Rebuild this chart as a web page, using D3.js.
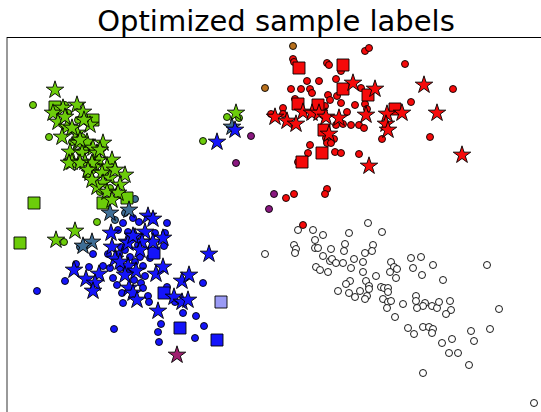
<!DOCTYPE html>
<html>
<head>
<meta charset="utf-8">
<script src="https://d3js.org/d3.v7.min.js"></script>
<style>
  body { margin: 0; background: #fff; }
  svg { display: block; }
</style>
</head>
<body>
<svg id="vis-svg" width="541" height="412"></svg>
<script>
// embedding coordinates (arbitrary units)
const greenStars = [[55,90],[77,105],[63,108],[53,113],[83,112],[58,122],[67,127],[90,125],[62,137],[77,133],[78,143],[87,142],[103,143],[93,148],[70,152],[82,153],[97,153],[72,162],[85,162],[99,160],[112,160],[95,167],[107,167],[69,163],[80,163],[92,163],[125,175],[90,173],[102,173],[110,178],[103,183],[97,187],[120,185],[107,192],[118,193],[112,200],[75,231],[56,240],[236,113],[65,117],[72,128],[84,120],[100,150],[88,170],[115,170],[92,180],[80,140]];
const greenCircles = [[33,105],[65,105],[78,120],[49,137],[72,142],[82,137],[80,152],[87,175],[97,222],[64,242],[227,117],[239,118],[203,141],[68,113],[75,130],[85,150],[95,158],[105,175],[110,188],[100,192],[90,145],[120,195]];
const greenSquares = [[55,107],[93,120],[103,203],[127,198],[34,203],[20,243]];

const steelStars = [[110,213],[129,210],[92,242],[83,246],[232,127]];
const steelCircles = [[135,199],[115,220],[80,247],[125,213]];

const blueStars = [[217,142],[235,130],[148,216],[153,219],[111,233],[127,242],[145,232],[135,237],[153,242],[163,238],[112,247],[128,243],[142,242],[133,236],[115,259],[209,254],[74,270],[99,274],[86,279],[95,283],[128,266],[136,271],[156,274],[163,267],[182,281],[189,275],[93,291],[129,288],[133,293],[137,300],[174,297],[182,302],[188,300],[158,311],[120,262],[140,250],[125,275]];
const blueCircles = [[123,223],[133,218],[139,222],[167,223],[118,230],[128,232],[155,233],[165,233],[164,246],[93,254],[108,254],[121,247],[119,254],[130,257],[140,257],[76,264],[89,267],[65,281],[103,266],[110,268],[113,278],[143,266],[128,272],[134,280],[203,283],[37,291],[117,285],[122,293],[141,283],[143,288],[148,296],[123,303],[149,302],[167,287],[175,302],[183,313],[196,316],[161,324],[204,326],[114,329],[158,332],[195,338],[159,342],[125,250],[135,262],[120,268],[145,276],[150,258],[138,245]];
const blueSquares = [[154,253],[164,293],[180,328],[217,340]];
const paleSquares = [[221,302]];
const plumStars = [[177,355]];
const purpleCircles = [[251,136],[236,163],[274,194],[269,209]];
const brownCircles = [[293,46],[265,88]];

const redCircles = [[365,51],[369,48],[293,59],[294,62],[327,63],[329,65],[341,71],[405,64],[307,81],[319,81],[336,79],[361,88],[453,89],[291,89],[301,89],[310,89],[312,93],[328,95],[337,96],[330,100],[411,102],[295,99],[341,103],[355,105],[365,104],[283,108],[325,106],[367,109],[347,112],[271,114],[283,114],[336,125],[343,124],[351,125],[359,125],[364,128],[326,138],[334,139],[327,143],[331,143],[382,139],[430,137],[310,145],[308,153],[335,152],[341,153],[359,154],[298,162],[286,198],[294,194],[327,189],[325,194],[303,225]];
const redStars = [[353,83],[375,89],[424,85],[402,113],[387,114],[437,113],[303,112],[312,113],[319,113],[326,117],[339,118],[366,115],[275,117],[287,121],[296,124],[386,124],[388,130],[329,134],[462,155],[369,166]];
const redSquares = [[299,68],[343,65],[343,89],[368,95],[298,104],[318,105],[395,109],[324,130],[322,153],[302,162]];

const whiteCircles = [[298,230],[313,230],[323,235],[368,223],[382,232],[349,233],[294,245],[296,249],[295,253],[265,254],[315,240],[315,248],[318,248],[331,249],[345,244],[344,251],[373,245],[372,251],[365,253],[323,256],[330,261],[332,259],[336,263],[343,263],[354,259],[363,262],[316,267],[320,270],[328,272],[351,268],[363,272],[376,276],[391,262],[394,267],[397,269],[390,272],[396,278],[411,258],[421,257],[413,268],[433,265],[422,275],[443,280],[487,265],[499,309],[350,281],[346,284],[338,291],[349,293],[355,297],[360,291],[366,281],[369,286],[369,289],[367,296],[365,299],[381,287],[384,288],[388,288],[388,292],[383,299],[388,302],[391,301],[387,308],[403,304],[416,296],[416,301],[425,303],[423,306],[417,308],[432,306],[437,308],[439,302],[450,301],[451,310],[446,314],[395,317],[408,328],[414,334],[423,327],[429,327],[433,329],[432,333],[442,343],[452,339],[449,353],[458,353],[471,331],[474,341],[490,329],[469,365],[423,373],[534,403]];

const width = 541, height = 412;
const svg = d3.select('#vis-svg');

const x = d3.scaleLinear().domain([0, 541]).range([0, width]);
const y = d3.scaleLinear().domain([0, 412]).range([0, height]);

// title
svg.append('text')
  .attr('x', 276)
  .attr('y', 31)
  .attr('text-anchor', 'middle')
  .style('font-family', 'DejaVu Sans, sans-serif')
  .style('font-size', '29px')
  .text('Optimized sample labels');

// axes frame (right and bottom are outside the picture)
svg.append('line').attr('x1', 7).attr('x2', 7).attr('y1', 37).attr('y2', height)
  .attr('stroke', '#777').attr('stroke-width', 1.5);
svg.append('line').attr('x1', 7).attr('x2', width).attr('y1', 37.5).attr('y2', 37.5)
  .attr('stroke', '#000').attr('stroke-width', 1.2);

const plot = svg.append('g');

function drawCircles(data, fill) {
  plot.selectAll(null)
    .data(data)
    .enter().append('circle')
    .attr('cx', d => x(d[0]))
    .attr('cy', d => y(d[1]))
    .attr('r', 3.5)
    .attr('fill', fill)
    .attr('stroke', '#000')
    .attr('stroke-width', 0.9);
}

function drawSymbols(data, type, size, fill) {
  const sym = d3.symbol().type(type).size(size);
  plot.selectAll(null)
    .data(data)
    .enter().append('path')
    .attr('d', sym)
    .attr('transform', d => `translate(${x(d[0])},${y(d[1])})`)
    .attr('fill', fill)
    .attr('stroke', '#000')
    .attr('stroke-width', 0.9);
}

const green = '#6ccc0a', blue = '#1414fa', red = '#f50a0a';

drawCircles(whiteCircles, '#fff');
drawCircles(greenCircles, green);
drawCircles(blueCircles, blue);
drawCircles(steelCircles, '#3f6e96');
drawCircles(redCircles, red);
drawCircles(purpleCircles, '#8a1880');
drawCircles(brownCircles, '#b8701c');

drawSymbols(greenSquares, d3.symbolSquare, 144, green);
drawSymbols(blueSquares, d3.symbolSquare, 144, blue);
drawSymbols(paleSquares, d3.symbolSquare, 144, '#9a9af5');
drawSymbols(redSquares, d3.symbolSquare, 144, red);

drawSymbols(greenStars, d3.symbolStar, 95, green);
drawSymbols(steelStars, d3.symbolStar, 95, '#3f6e96');
drawSymbols(blueStars, d3.symbolStar, 95, blue);
drawSymbols(plumStars, d3.symbolStar, 95, '#a01f70');
drawSymbols(redStars, d3.symbolStar, 95, red);
</script>
</body>
</html>
